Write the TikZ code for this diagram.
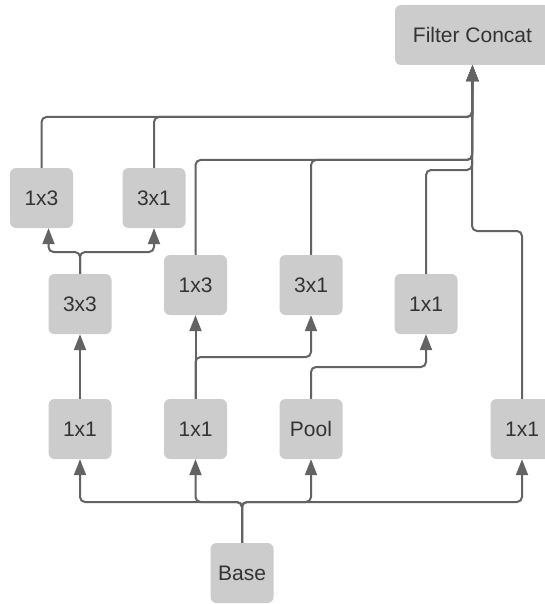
\documentclass[tikz,border=0pt]{standalone}
\usepackage{fontspec}
\setmainfont{Liberation Sans}
\usetikzlibrary{arrows.meta}
\definecolor{boxgray}{HTML}{CCCCCC}
\definecolor{linegray}{HTML}{636363}
\definecolor{textgray}{HTML}{333333}
\begin{document}
\begin{tikzpicture}[x=1pt,y=-1pt,
  box/.style={rectangle, rounded corners=6pt, fill=boxgray, minimum width=63pt, minimum height=60pt, inner sep=0pt, text=textgray, font=\fontsize{21}{24}\selectfont},
  conn/.style={draw=linegray, line width=2pt, rounded corners=5pt},
  arr/.style={conn, -{Triangle[length=16pt,width=12pt]}}]
\useasboundingbox (0,0) rectangle (544,604);

\node[box, minimum width=155pt] (concat) at (472.5,35) {Filter Concat};
\node[box] (topA) at (41.5,198) {1x3};
\node[box] (topB) at (154,198) {3x1};
\node[box] (c33) at (80,304) {3x3};
\node[box] (m13) at (195.5,285) {1x3};
\node[box] (m31) at (311,285) {3x1};
\node[box] (m11) at (426,304) {1x1};
\node[box] (b1) at (80,429) {1x1};
\node[box] (b2) at (195.5,429) {1x1};
\node[box] (pool) at (311,429) {Pool};
\node[box] (b4) at (522,429) {1x1};
\node[box] (base) at (242,573) {Base};

\coordinate (bj) at (242,502);
\coordinate (sj) at (80,252);
\coordinate (j13) at (311,357);
\coordinate (jp) at (426,367);
\coordinate (t1) at (472,117);
\coordinate (t2) at (472,160);
\coordinate (t3) at (472,170);
\coordinate (t4) at (472,231);

\draw[arr] (base.north) -- (bj) -| (b1.south);
\draw[arr] (base.north) -- (bj) -| (b2.south);
\draw[arr] (base.north) -- (bj) -| (pool.south);
\draw[arr] (base.north) -- (bj) -| (b4.south);

\draw[arr] (b1.north) -- (c33.south);
\draw[arr] (c33.north) -- (sj) -| ([xshift=7pt]topA.south);
\draw[arr] (c33.north) -- (sj) -| (topB.south);
\draw[arr] (b2.north) -- (m13.south);
\draw[arr] (b2.north) |- (j13) -- (m31.south);
\draw[arr] (pool.north) |- (jp) -- (m11.south);

\draw[arr] (topA.north) |- (t1) -- (concat.south);
\draw[arr] (topB.north) |- (t1) -- (concat.south);
\draw[arr] (m13.north) |- (t2) -- (concat.south);
\draw[arr] (m31.north) |- (t2) -- (concat.south);
\draw[arr] (m11.north) |- (t3) -- (concat.south);
\draw[arr] (b4.north) |- (t4) -- (concat.south);
\end{tikzpicture}
\end{document}
